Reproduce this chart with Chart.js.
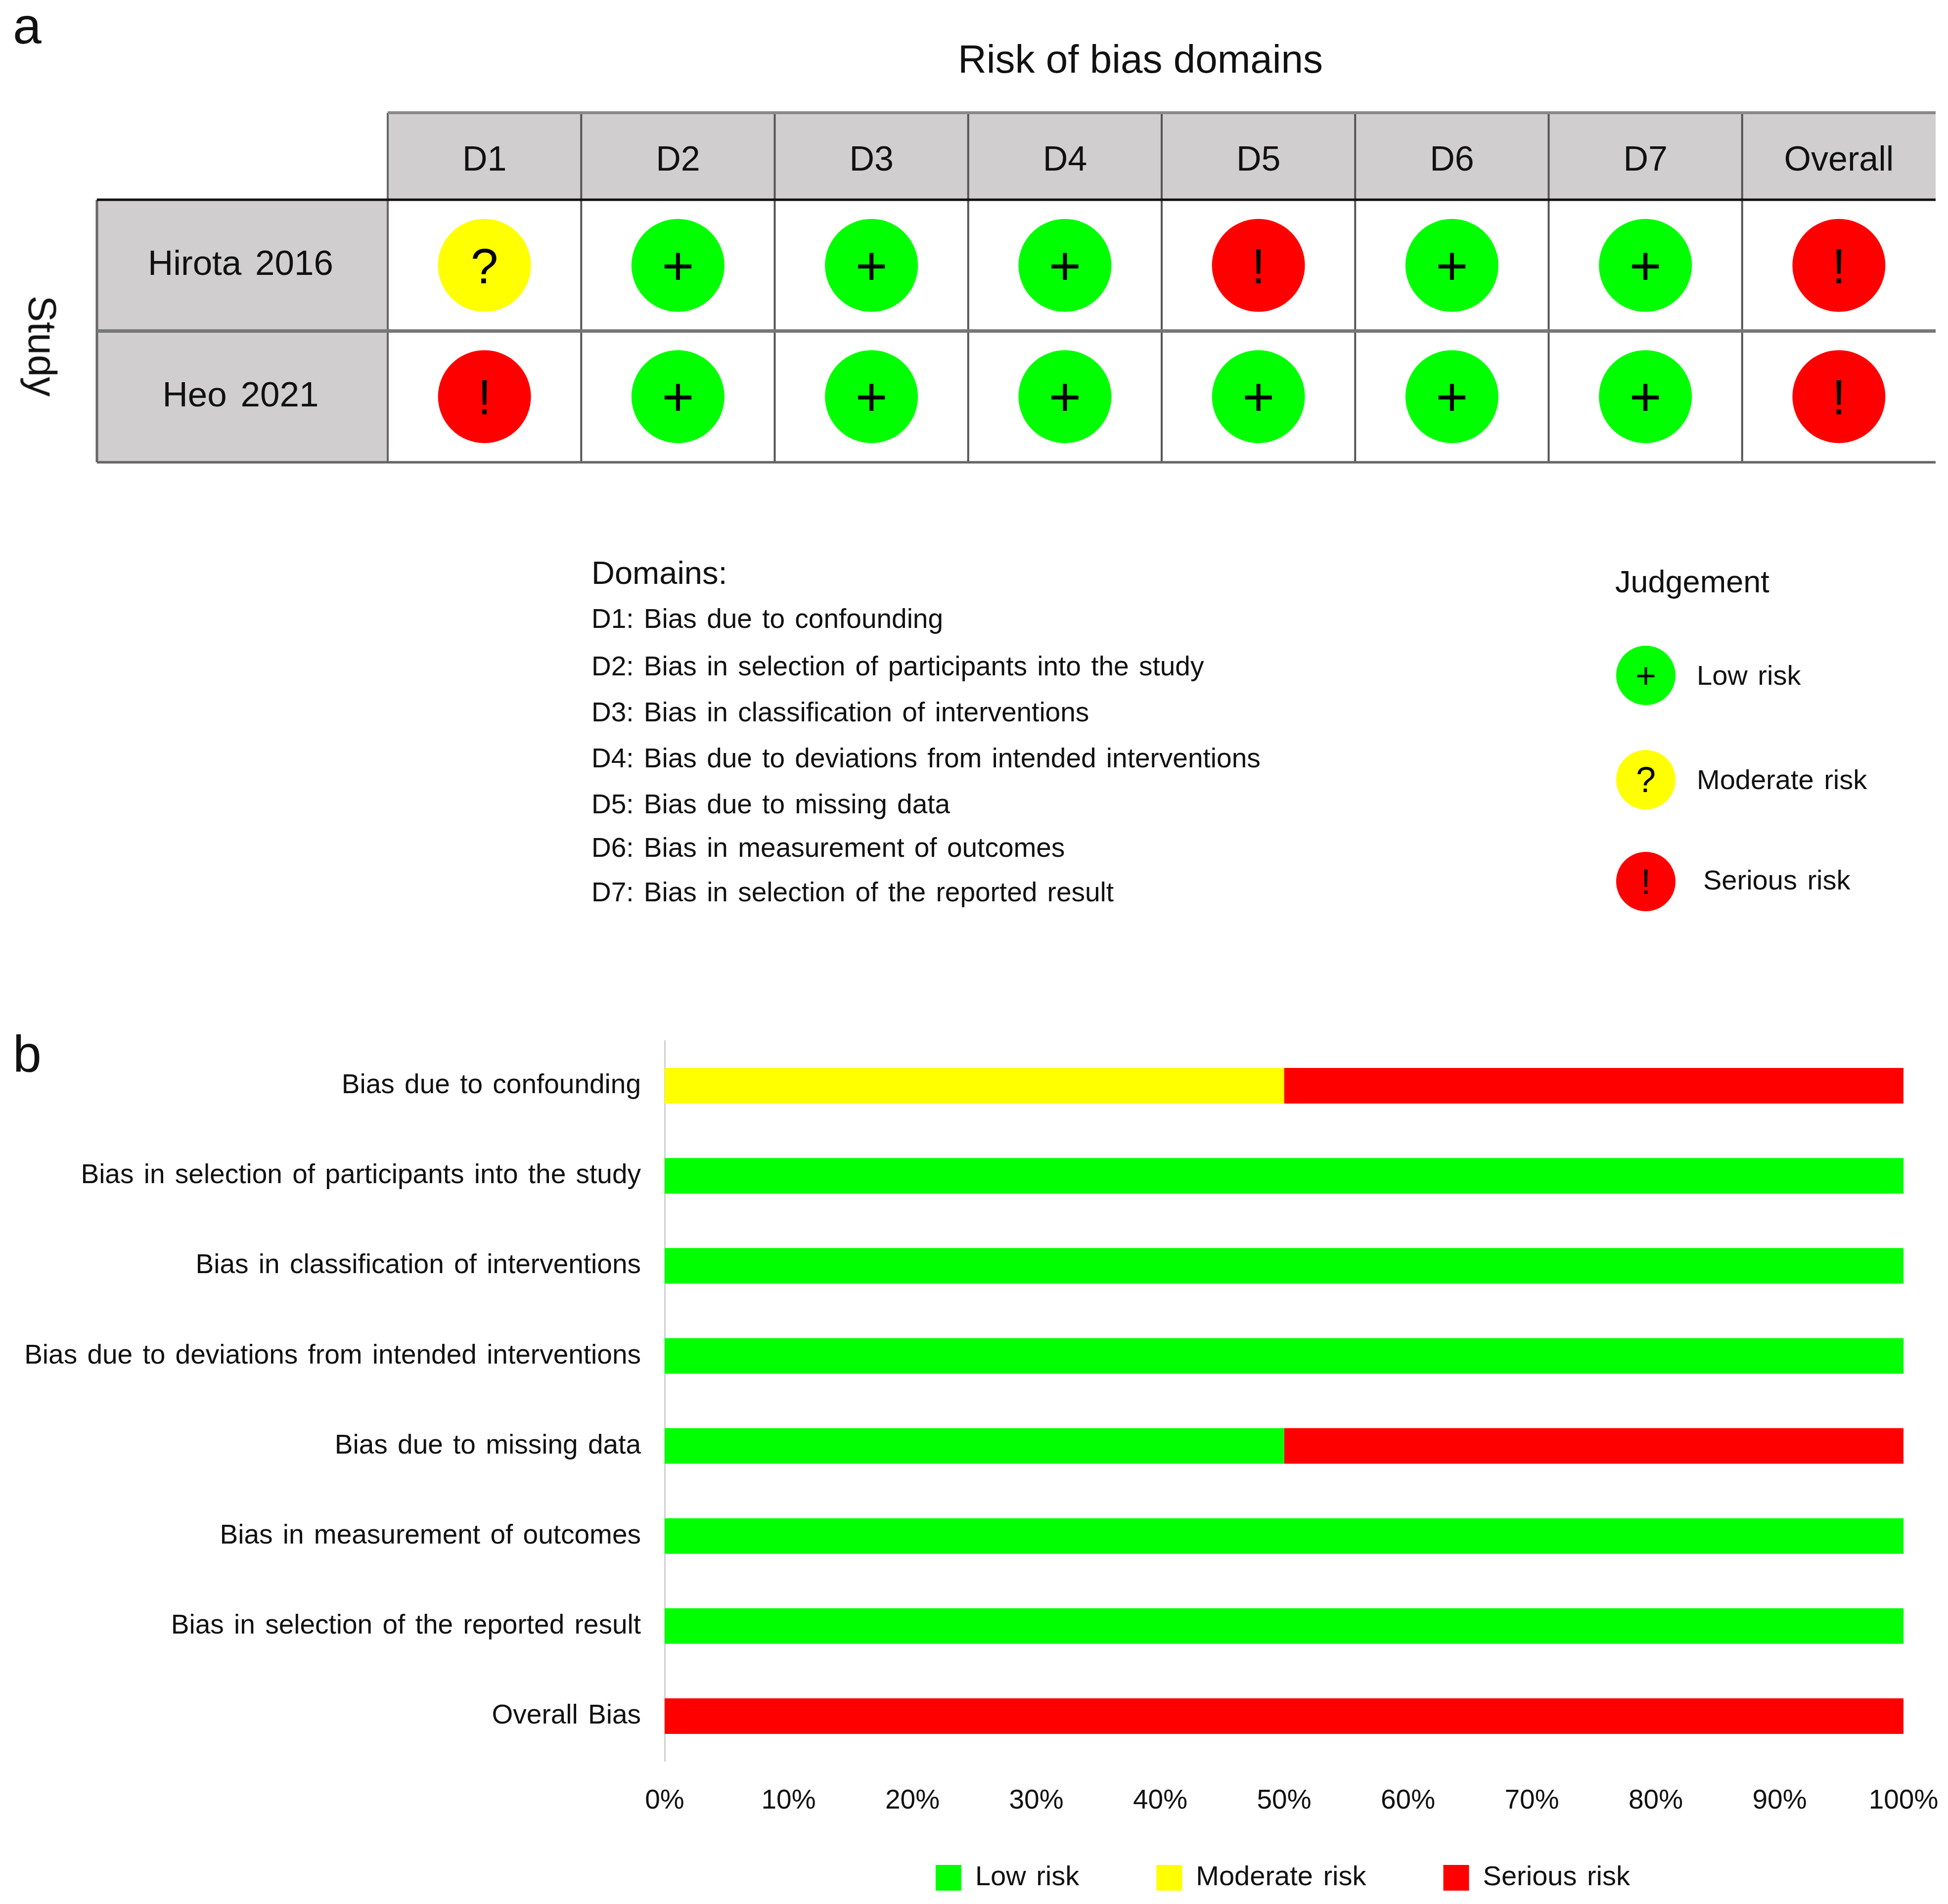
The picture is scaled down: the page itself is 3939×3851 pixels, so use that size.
<!DOCTYPE html>
<html lang="en">
<head>
    <meta charset="UTF-8">
    <title>Risk of bias</title>
    <style>
        body {
            margin: 0;
            background: #fff;
            font-family: "Liberation Sans", Arial, sans-serif;
            color: #111;
        }
        #page {
            position: relative;
            width: 3939px;
            height: 3851px;
            overflow: hidden;
        }
        canvas {
            position: absolute;
            left: 0;
        }
        .t {
            position: absolute;
            white-space: pre;
            line-height: 1;
            font-size: 55px;
            word-spacing: 5px;
        }
        .dot {
            position: absolute;
            width: 120px;
            height: 120px;
            border-radius: 50%;
            text-align: center;
            color: #000;
            font-size: 72px;
            line-height: 120px;
        }
    </style>
</head>
<body>
<div id="page">
    <canvas id="grid-chart" width="3939" height="1000" style="top:0"></canvas>
    <canvas id="bar-chart" width="3939" height="1851" style="top:2000px"></canvas>

    <div class="t" style="left:26px;top:0;font-size:104px">a</div>
    <div class="t" style="left:26px;top:2079px;font-size:104px">b</div>
    <div class="t" style="left:1937px;top:80px;font-size:80px;word-spacing:0">Risk of bias domains</div>
    <div class="t" style="left:-17px;top:660px;font-size:80px;word-spacing:0;transform:rotate(90deg)">Study</div>

    <div id="domain-notes"></div>

    <div class="t" style="left:3266px;top:1145px;font-size:63px;word-spacing:0">Judgement</div>
    <div class="dot" style="left:3268px;top:1306px;background:#00ff00">+</div>
    <div class="t" style="left:3431px;top:1338px;font-size:56px">Low risk</div>
    <div class="dot" style="left:3268px;top:1517px;background:#ffff00">?</div>
    <div class="t" style="left:3431px;top:1549px;font-size:56px">Moderate risk</div>
    <div class="dot" style="left:3268px;top:1723px;background:#ff0000">!</div>
    <div class="t" style="left:3444px;top:1752px;font-size:56px">Serious risk</div>
</div>

<script src="https://cdn.jsdelivr.net/npm/chart.js"></script>
<script>
    const domainColumns = ['D1', 'D2', 'D3', 'D4', 'D5', 'D6', 'D7', 'Overall'];
    const studies = ['Hirota 2016', 'Heo 2021'];
    const hirota2016 = ['Moderate', 'Low', 'Low', 'Low', 'Serious', 'Low', 'Low', 'Serious'];
    const heo2021 = ['Serious', 'Low', 'Low', 'Low', 'Low', 'Low', 'Low', 'Serious'];

    const biasLabels = [
        'Bias due to confounding',
        'Bias in selection of participants into the study',
        'Bias in classification of interventions',
        'Bias due to deviations from intended interventions',
        'Bias due to missing data',
        'Bias in measurement of outcomes',
        'Bias in selection of the reported result',
        'Overall Bias'
    ];
    const lowRisk = [0, 100, 100, 100, 50, 100, 100, 0];
    const moderateRisk = [50, 0, 0, 0, 0, 0, 0, 0];
    const seriousRisk = [50, 0, 0, 0, 50, 0, 0, 100];

    const GREEN = '#00ff00', YELLOW = '#ffff00', RED = '#ff0000';
    const GREY_CELL = '#d0cece';
    const FONT = '"Liberation Sans", Arial, sans-serif';
    const judgementColor = { Low: GREEN, Moderate: YELLOW, Serious: RED };
    const judgementGlyph = { Low: '+', Moderate: '?', Serious: '!' };

    Chart.defaults.font.family = FONT;
    Chart.defaults.color = '#111';
    Chart.defaults.animation = false;

    // domain notes below the traffic light table
    const noteLines = [
        'D1: Bias due to confounding',
        'D2: Bias in selection of participants into the study',
        'D3: Bias in classification of interventions',
        'D4: Bias due to deviations from intended interventions',
        'D5: Bias due to missing data',
        'D6: Bias in measurement of outcomes',
        'D7: Bias in selection of the reported result'
    ];
    const noteTops = [1224, 1320, 1413, 1506, 1599, 1687, 1777];
    const notes = document.getElementById('domain-notes');
    notes.innerHTML = '<div class="t" style="left:1196px;top:1126px;font-size:65px;word-spacing:0">Domains:</div>' +
        noteLines.map((line, i) => `<div class="t" style="left:1196px;top:${noteTops[i]}px">${line}</div>`).join('');

    // axis label overhang must not shrink the plot area
    function noPadding(scale) {
        scale.paddingLeft = scale.paddingRight = scale.paddingTop = scale.paddingBottom = 0;
    }

    // grey header cells and table lines, taken from the scales
    const tablePlugin = {
        id: 'table',
        beforeLayout(chart) {
            chart.ctx.wordSpacing = '8px';
        },
        beforeDraw(chart) {
            const { ctx, scales: { x, y } } = chart;
            ctx.wordSpacing = '8px';
            ctx.save();
            ctx.fillStyle = GREY_CELL;
            ctx.fillRect(x.left, x.top, x.right - x.left, x.bottom - x.top);
            ctx.fillRect(y.left, y.top, y.right - y.left, y.bottom - y.top);
            ctx.restore();
        },
        afterDraw(chart) {
            const { ctx, scales: { x, y } } = chart;
            const line = (x1, y1, x2, y2, color, width) => {
                ctx.strokeStyle = color;
                ctx.lineWidth = width;
                ctx.beginPath();
                ctx.moveTo(x1, y1);
                ctx.lineTo(x2, y2);
                ctx.stroke();
            };
            ctx.save();
            const colWidth = (x.right - x.left) / domainColumns.length;
            for (let i = 0; i < domainColumns.length; i++) {
                const px = x.left + i * colWidth;
                line(px, x.top, px, y.bottom, i === 0 ? '#666' : '#555', 4);
            }
            line(y.left, y.top, y.left, y.bottom, '#666', 5);
            line(x.left, x.top, x.right, x.top, '#8a8a8a', 6);
            line(y.left, y.top, x.right, y.top, '#111', 5);
            line(y.left, (y.top + y.bottom) / 2, x.right, (y.top + y.bottom) / 2, '#777', 7);
            line(y.left, y.bottom, x.right, y.bottom, '#666', 5);
            ctx.restore();
        },
        afterDatasetsDraw(chart) {
            const { ctx } = chart;
            ctx.save();
            ctx.fillStyle = '#000';
            ctx.textAlign = 'center';
            ctx.textBaseline = 'alphabetic';
            chart.data.datasets.forEach((ds, d) => {
                chart.getDatasetMeta(d).data.forEach((pt, i) => {
                    const glyph = judgementGlyph[ds.judgements[i]];
                    const plus = glyph === '+';
                    const size = plus ? 112 : 100;
                    ctx.font = `${size}px ${FONT}`;
                    ctx.fillText(glyph, pt.x, pt.y + size * (plus ? 0.35 : 0.36));
                });
            });
            ctx.restore();
        }
    };

    function studyDataset(name, judgements) {
        return {
            label: name,
            judgements: judgements,
            data: judgements.map((j, i) => ({ x: domainColumns[i], y: name })),
            pointRadius: 94,
            pointHoverRadius: 94,
            borderWidth: 0,
            pointBorderWidth: 0,
            pointBackgroundColor: judgements.map(j => judgementColor[j])
        };
    }

    new Chart(document.getElementById('grid-chart'), {
        type: 'scatter',
        data: {
            datasets: [studyDataset(studies[0], hirota2016), studyDataset(studies[1], heo2021)]
        },
        plugins: [tablePlugin],
        options: {
            responsive: false,
            devicePixelRatio: 1,
            layout: { autoPadding: false, padding: { left: 196, top: 228, right: 25, bottom: 65 } },
            plugins: { legend: { display: false }, tooltip: { enabled: false } },
            scales: {
                x: {
                    type: 'category',
                    position: 'top',
                    labels: domainColumns,
                    offset: true,
                    grid: { display: false },
                    border: { display: false },
                    ticks: { font: { size: 70 }, padding: 28, maxRotation: 0, autoSkip: false },
                    afterFit(scale) { scale.height = 176; noPadding(scale); }
                },
                y: {
                    type: 'category',
                    labels: studies,
                    offset: true,
                    grid: { display: false },
                    border: { display: false },
                    ticks: { font: { size: 71 }, padding: 102, crossAlign: 'center', autoSkip: false },
                    afterFit(scale) { scale.width = 588; noPadding(scale); }
                }
            }
        }
    });

    const barExtras = {
        id: 'barExtras',
        beforeLayout(chart) { chart.ctx.wordSpacing = '5px'; },
        // legend padding also spaces the entries, so pull the box up over the tick row
        afterLayout(chart) {
            chart.legend.top -= 73;
            chart.legend.left -= 5;
        },
        beforeDraw(chart) { chart.ctx.wordSpacing = '5px'; }
    };

    new Chart(document.getElementById('bar-chart'), {
        type: 'bar',
        data: {
            labels: biasLabels,
            datasets: [
                { label: 'Low risk', data: lowRisk, backgroundColor: GREEN },
                { label: 'Moderate risk', data: moderateRisk, backgroundColor: YELLOW },
                { label: 'Serious risk', data: seriousRisk, backgroundColor: RED }
            ]
        },
        plugins: [barExtras],
        options: {
            indexAxis: 'y',
            responsive: false,
            devicePixelRatio: 1,
            layout: { autoPadding: false, padding: { left: 10, top: 105, right: 90, bottom: 0 } },
            datasets: { bar: { categoryPercentage: 1, barPercentage: 0.396 } },
            plugins: {
                tooltip: { enabled: false },
                legend: {
                    position: 'bottom',
                    fullSize: false,
                    maxHeight: 164,
                    onClick: null,
                    labels: { font: { size: 56 }, boxWidth: 52, boxHeight: 52, padding: 156 }
                }
            },
            scales: {
                x: {
                    stacked: true,
                    min: 0,
                    max: 100,
                    grid: { display: false },
                    border: { display: false },
                    ticks: {
                        stepSize: 10,
                        font: { size: 55 },
                        padding: 40,
                        maxRotation: 0,
                        callback: v => v + '%'
                    },
                    afterFit(scale) { scale.height = 125; noPadding(scale); }
                },
                y: {
                    stacked: true,
                    grid: { display: false, drawTicks: false },
                    border: { display: true, color: '#d0d0d0', width: 3 },
                    ticks: { font: { size: 55 }, padding: 48, autoSkip: false },
                    afterFit(scale) { scale.width = 1334; noPadding(scale); }
                }
            }
        }
    });
</script>
</body>
</html>
